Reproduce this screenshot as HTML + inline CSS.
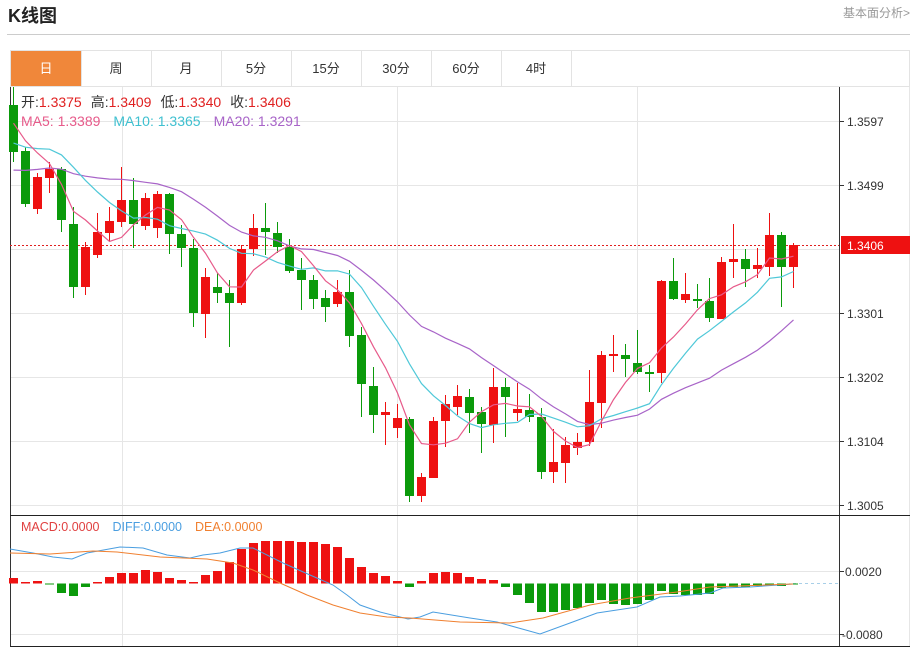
<!DOCTYPE html>
<html><head><meta charset="utf-8"><style>
body{margin:0;background:#fff;width:915px;height:649px;overflow:hidden;font-family:"Liberation Sans","Noto Sans CJK SC",sans-serif;}
</style></head><body>
<svg id="s" width="915" height="649" xmlns="http://www.w3.org/2000/svg" style="position:absolute;left:0;top:0" font-family="Liberation Sans, Noto Sans CJK SC, sans-serif">
<text x="8" y="22" font-size="18" font-weight="bold" fill="#222">K线图</text>
<text x="910" y="17" font-size="12" fill="#999" text-anchor="end">基本面分析&gt;</text>
<line x1="7" y1="34.5" x2="910" y2="34.5" stroke="#ccc"/>
<rect x="10.5" y="50.5" width="899" height="36" fill="none" stroke="#e3e3e3"/>
<rect x="11" y="51" width="70" height="35" fill="#f0873a"/>
<g stroke="#e3e3e3"><line x1="81.5" y1="51" x2="81.5" y2="86"/><line x1="151.5" y1="51" x2="151.5" y2="86"/><line x1="221.5" y1="51" x2="221.5" y2="86"/><line x1="291.5" y1="51" x2="291.5" y2="86"/><line x1="361.5" y1="51" x2="361.5" y2="86"/><line x1="431.5" y1="51" x2="431.5" y2="86"/><line x1="501.5" y1="51" x2="501.5" y2="86"/><line x1="571.5" y1="51" x2="571.5" y2="86"/></g>
<g font-size="13" text-anchor="middle" fill="#333"><text x="46" y="73" fill="#fff">日</text><text x="116" y="73">周</text><text x="186" y="73">月</text><text x="256" y="73">5分</text><text x="326" y="73">15分</text><text x="396" y="73">30分</text><text x="466" y="73">60分</text><text x="536" y="73">4时</text></g>
<g stroke="#e6e6e6"><line x1="10" y1="121.5" x2="839" y2="121.5"/><line x1="10" y1="185.5" x2="839" y2="185.5"/><line x1="10" y1="249.5" x2="839" y2="249.5"/><line x1="10" y1="313.5" x2="839" y2="313.5"/><line x1="10" y1="377.5" x2="839" y2="377.5"/><line x1="10" y1="441.5" x2="839" y2="441.5"/><line x1="10" y1="505.5" x2="839" y2="505.5"/>
<line x1="10" y1="571.5" x2="839" y2="571.5"/><line x1="10" y1="634.5" x2="839" y2="634.5"/>
<line x1="122.5" y1="87" x2="122.5" y2="646"/><line x1="397.5" y1="87" x2="397.5" y2="646"/><line x1="637.5" y1="87" x2="637.5" y2="646"/><line x1="909.5" y1="87" x2="909.5" y2="646"/></g>
<line x1="10.5" y1="87" x2="10.5" y2="646" stroke="#333"/>
<line x1="839.5" y1="87" x2="839.5" y2="646" stroke="#333"/>
<line x1="10" y1="515.5" x2="910" y2="515.5" stroke="#222"/>
<line x1="10" y1="646.5" x2="910" y2="646.5" stroke="#222"/>
<g stroke="#333"><line x1="839" y1="121.5" x2="844" y2="121.5"/><line x1="839" y1="185.5" x2="844" y2="185.5"/><line x1="839" y1="313.5" x2="844" y2="313.5"/><line x1="839" y1="377.5" x2="844" y2="377.5"/><line x1="839" y1="441.5" x2="844" y2="441.5"/><line x1="839" y1="505.5" x2="844" y2="505.5"/><line x1="839" y1="571.5" x2="844" y2="571.5"/><line x1="839" y1="634.5" x2="844" y2="634.5"/></g>
<g font-size="12" fill="#333"><text x="847" y="126">1.3597</text><text x="847" y="190">1.3499</text><text x="847" y="318">1.3301</text><text x="847" y="382">1.3202</text><text x="847" y="446">1.3104</text><text x="847" y="510">1.3005</text><text x="845" y="576">0.0020</text><text x="842" y="639">-0.0080</text></g>
<line x1="10" y1="245.5" x2="839" y2="245.5" stroke="#e02020" stroke-dasharray="2,2"/>
<rect x="841" y="236" width="69" height="18" fill="#ee1111"/>
<text x="847" y="250" font-size="12" fill="#fff">1.3406</text>
<line x1="793" y1="583.5" x2="839" y2="583.5" stroke="#a8cfe8" stroke-dasharray="3,3"/>
<g id="g"></g>
<g font-size="14"><text x="21" y="107"><tspan fill="#333">开:</tspan><tspan fill="#e02020">1.3375</tspan><tspan fill="#333" dx="9">高:</tspan><tspan fill="#e02020">1.3409</tspan><tspan fill="#333" dx="9">低:</tspan><tspan fill="#e02020">1.3340</tspan><tspan fill="#333" dx="9">收:</tspan><tspan fill="#e02020">1.3406</tspan></text>
<text x="21" y="126"><tspan fill="#e75a8a">MA5: 1.3389</tspan><tspan fill="#3fc0d0" dx="13">MA10: 1.3365</tspan><tspan fill="#a864c8" dx="13">MA20: 1.3291</tspan></text>
<text x="21" y="531" font-size="12.5"><tspan fill="#e04040">MACD:0.0000</tspan><tspan fill="#4a9ee0" dx="13">DIFF:0.0000</tspan><tspan fill="#f08030" dx="13">DEA:0.0000</tspan></text></g>
</svg>
<script>
var C=[[105,152,87,162,'g'],[151,204,147,207,'g'],[177,209,173,214,'r'],[169,178,162,193,'r'],[169,220,167,232,'g'],[224,287,207,298,'g'],[247,287,242,295,'r'],[232,255,213,258,'r'],[221,233,207,241,'r'],[200,222,167,227,'r'],[200,224,178,248,'g'],[198,226,193,230,'r'],[194,228,191,238,'r'],[194,234,193,254,'g'],[234,248,225,267,'g'],[248,313,239,327,'g'],[277,314,268,338,'r'],[287,293,273,303,'g'],[293,303,280,347,'g'],[249,303,245,305,'r'],[228,249,214,256,'r'],[228,232,203,255,'g'],[233,247,222,253,'g'],[247,271,239,273,'g'],[270,280,258,310,'g'],[280,299,275,309,'g'],[298,307,290,322,'g'],[292,304,280,307,'r'],[292,336,270,347,'g'],[335,384,327,417,'g'],[386,415,367,433,'g'],[412,415,402,445,'r'],[418,428,404,438,'r'],[419,496,417,502,'g'],[477,496,473,502,'r'],[421,478,417,478,'r'],[404,421,395,447,'r'],[396,407,385,415,'r'],[397,413,389,433,'g'],[412,424,407,453,'g'],[387,425,368,443,'r'],[387,397,378,437,'g'],[409,413,383,421,'r'],[410,417,394,422,'g'],[417,472,408,479,'g'],[462,472,429,483,'r'],[445,463,437,483,'r'],[442,448,433,455,'r'],[402,442,370,446,'r'],[355,403,351,428,'r'],[354,356,335,372,'r'],[355,359,344,377,'g'],[363,372,330,374,'g'],[372,374,365,392,'g'],[281,373,280,383,'r'],[281,299,258,300,'g'],[294,300,273,303,'r'],[299,301,284,308,'g'],[301,318,278,322,'g'],[262,319,257,319,'r'],[259,262,224,278,'r'],[259,269,249,287,'g'],[265,269,248,278,'r'],[235,267,213,276,'r'],[235,267,232,307,'g'],[245,267,243,288,'r']];
var H=[578,582,581,584,593,596,587,582,577,573,573,570,572,578,580,582,575,571,562,549,543,541,541,541,542,542,544,547,558,567,573,576,581,587,581,573,572,573,577,579,580,587,595,603,612,612,610,608,603,600,604,605,604,600,591,594,595,595,594,588,587,587,586,585,586,584];
var s='',X=function(i){return 13.5+12*i};
var cl=[];for(var k=0;k<10;k++)cl.push(197);for(k=0;k<5;k++)cl.push(163);for(k=0;k<4;k++)cl.push(116);
C.forEach(function(c){cl.push(c[4]=='r'?c[0]:c[1]);});
function ma(n,col){var p=[];for(var i=0;i<C.length;i++){var t=0;for(var j=0;j<n;j++)t+=cl[19+i-j];p.push(X(i).toFixed(1)+','+(t/n).toFixed(1));}
return '<polyline fill="none" stroke="'+col+'" stroke-width="1.2" points="'+p.join(' ')+'"/>';}
C.forEach(function(c,i){var col=c[4]=='r'?'#ee1111':'#0b9a0b',x=X(i);
s+='<line x1="'+x+'" y1="'+c[2]+'" x2="'+x+'" y2="'+c[3]+'" stroke="'+col+'"/>';
s+='<rect x="'+(x-4.5)+'" y="'+c[0]+'" width="9" height="'+Math.max(1.5,c[1]-c[0])+'" fill="'+col+'"/>';});
H.forEach(function(h,i){var z=583.5,x=X(i),col=h<z?'#ee1111':'#0b9a0b';var y=Math.min(h,z),ht=Math.max(1,Math.abs(h-z));
s+='<rect x="'+(x-4.5)+'" y="'+y+'" width="9" height="'+ht+'" fill="'+col+'"/>';});
s+=ma(20,'#a864c8')+ma(10,'#4fc8d8')+ma(5,'#e75a8a');
s+='<polyline fill="none" stroke="#4a9ee0" stroke-width="1" points="10,549 33,553 53,557 72,559 87,553 120,547 143,548 167,555 190,558 203,555 220,553 240,548 253,548 283,563 310,575 333,585 347,595 360,605 380,612 408,619 420,617 433,612 470,618 497,622 540,634 570,623 597,613 637,607 660,597 680,596 710,593 723,588 750,587 793,584"/>';
s+='<polyline fill="none" stroke="#f08030" stroke-width="1" points="10,553 50,554 93,551 117,552 160,557 207,559 233,563 253,570 280,583 307,595 333,605 360,613 387,617 410,618 460,622 510,623 543,618 590,605 630,598 677,592 710,587 793,584"/>';
document.getElementById('g').innerHTML=s;
</script>
</body></html>
